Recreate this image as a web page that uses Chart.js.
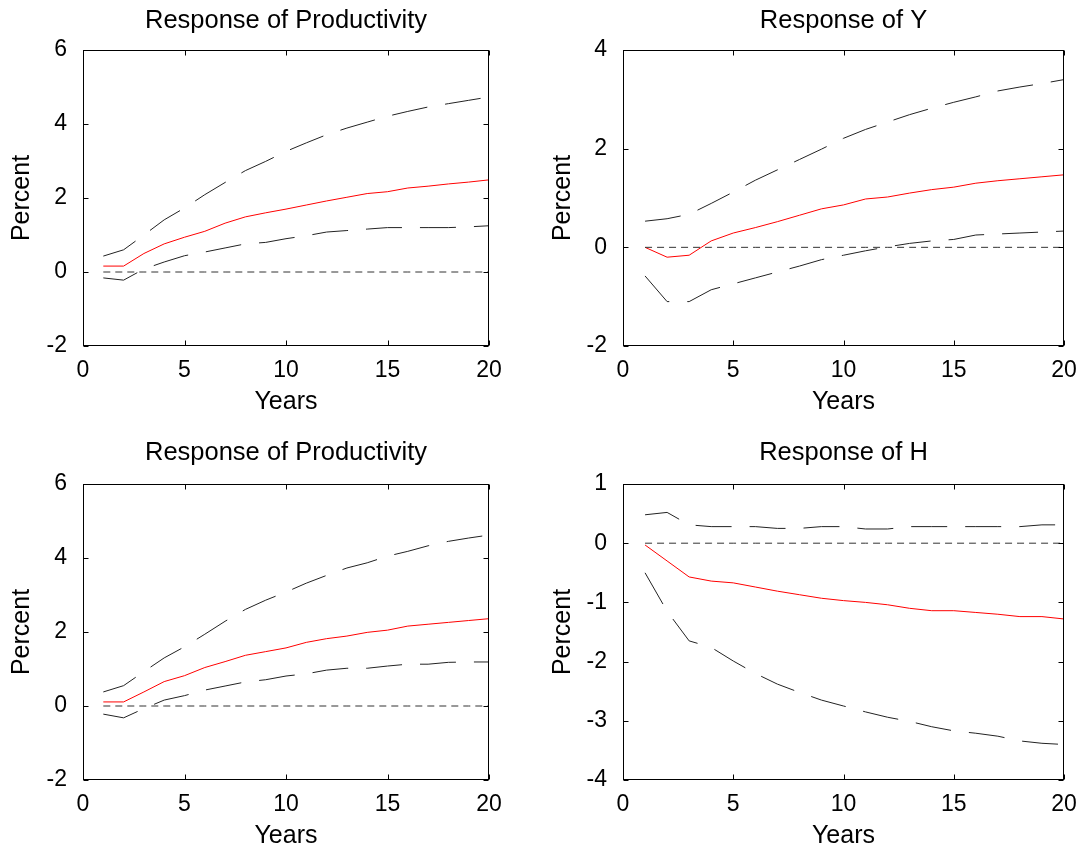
<!DOCTYPE html>
<html><head><meta charset="utf-8">
<script src="https://cdn.jsdelivr.net/npm/chart.js@4.4.1/dist/chart.umd.min.js"></script>
<style>
html,body{margin:0;padding:0;background:#fff;}
#wrap{position:relative;width:1085px;height:848px;overflow:hidden;background:#fff;}
canvas{position:absolute;display:block;}
</style></head><body>
<div id="wrap">
<canvas id="c1" width="542" height="424" style="left:0;top:0"></canvas>
<canvas id="c2" width="543" height="424" style="left:542px;top:0"></canvas>
<canvas id="c3" width="542" height="424" style="left:0;top:424px"></canvas>
<canvas id="c4" width="543" height="424" style="left:542px;top:424px"></canvas>
</div>
<script>
// ---- data ----
const years = [1,2,3,4,5,6,7,8,9,10,11,12,13,14,15,16,17,18,19,20];
const xTicks = [0,5,10,15,20];

const prodResp1  = [0.16,0.16,0.50,0.76,0.94,1.10,1.32,1.49,1.60,1.70,1.81,1.92,2.02,2.12,2.17,2.27,2.32,2.38,2.43,2.49];
const prodUpper1 = [0.43,0.60,1.00,1.41,1.73,2.09,2.42,2.74,2.99,3.26,3.49,3.71,3.89,4.05,4.21,4.34,4.46,4.55,4.64,4.73];
const prodLower1 = [-0.16,-0.22,0.08,0.27,0.44,0.54,0.65,0.76,0.80,0.90,0.98,1.08,1.12,1.16,1.20,1.20,1.20,1.20,1.22,1.25];

const yResp  = [0.00,-0.20,-0.16,0.13,0.29,0.40,0.52,0.65,0.78,0.86,0.98,1.02,1.10,1.17,1.22,1.30,1.35,1.39,1.43,1.47];
const yUpper = [0.53,0.58,0.67,0.89,1.12,1.36,1.57,1.78,1.99,2.21,2.39,2.54,2.69,2.82,2.94,3.05,3.17,3.25,3.32,3.40];
const yLower = [-0.58,-1.10,-1.10,-0.86,-0.74,-0.62,-0.50,-0.38,-0.25,-0.16,-0.07,0.01,0.08,0.13,0.16,0.25,0.27,0.29,0.31,0.33];

const prodResp2  = [0.11,0.11,0.38,0.66,0.82,1.04,1.20,1.37,1.47,1.57,1.72,1.82,1.89,1.99,2.05,2.16,2.21,2.26,2.31,2.36];
const prodUpper2 = [0.38,0.55,0.93,1.30,1.60,1.94,2.29,2.61,2.86,3.08,3.32,3.53,3.73,3.87,4.05,4.18,4.33,4.45,4.54,4.62];
const prodLower2 = [-0.22,-0.32,-0.07,0.16,0.28,0.43,0.54,0.65,0.71,0.81,0.87,0.97,1.02,1.02,1.08,1.13,1.13,1.18,1.19,1.19];

const hResp  = [-0.03,-0.30,-0.57,-0.64,-0.67,-0.74,-0.81,-0.87,-0.93,-0.97,-1.00,-1.04,-1.10,-1.14,-1.14,-1.17,-1.20,-1.24,-1.24,-1.28];
const hUpper = [0.48,0.52,0.31,0.28,0.28,0.28,0.25,0.25,0.28,0.28,0.24,0.24,0.28,0.28,0.28,0.28,0.28,0.28,0.31,0.31];
const hLower = [-0.50,-1.15,-1.65,-1.76,-1.99,-2.20,-2.38,-2.52,-2.65,-2.75,-2.85,-2.94,-3.01,-3.10,-3.17,-3.21,-3.26,-3.34,-3.38,-3.40];

const zeroLine = [0,0,0,0,0,0,0,0,0,0,0,0,0,0,0,0,0,0,0,0];

const ticksProd = [-2,0,2,4,6];
const ticksY = [-2,0,2,4];
const ticksH = [-4,-3,-2,-1,0,1];

// ---- rendering ----
const FONT = "'Liberation Sans', Arial, Helvetica, sans-serif";

const boxPlugin = {
  id: 'matlabBox',
  afterDatasetsDraw(chart) {
    const {ctx, chartArea: a, scales: {x, y}} = chart;
    ctx.save();
    ctx.strokeStyle = '#000';
    ctx.lineWidth = 1;
    const L = Math.round(a.left) + 0.5, R = Math.round(a.right) - 0.5;
    const T = Math.round(a.top) + 0.5, B = Math.round(a.bottom) - 0.5;
    const tl = 5;
    ctx.beginPath();
    x.ticks.forEach(t => {
      const px = Math.round(x.getPixelForValue(t.value)) + 0.5;
      ctx.moveTo(px, B); ctx.lineTo(px, B - tl);
      ctx.moveTo(px, T); ctx.lineTo(px, T + tl);
    });
    y.ticks.forEach(t => {
      const py = Math.round(y.getPixelForValue(t.value)) + 0.5;
      ctx.moveTo(L, py); ctx.lineTo(L + tl, py);
      ctx.moveTo(R, py); ctx.lineTo(R - tl, py);
    });
    ctx.stroke();
    ctx.strokeRect(L, T, R - L, B - T);
    ctx.restore();
  }
};

function pts(arr) { return years.map((x, i) => ({x: x, y: arr[i]})); }

function makePanel(id, p) {
  const ds = [
    {data: pts(zeroLine), borderColor: '#333', borderWidth: 1, borderDash: [7, 5]},
    {data: pts(p.upper), borderColor: '#222', borderWidth: 1, borderDash: [36, 18]},
    {data: pts(p.lower), borderColor: '#222', borderWidth: 1, borderDash: [36, 18]},
    {data: pts(p.resp), borderColor: '#ff0000', borderWidth: 1}
  ];
  ds.forEach(d => { d.pointRadius = 0; d.tension = 0; d.fill = false; });
  new Chart(document.getElementById(id), {
    type: 'line',
    data: {datasets: ds},
    options: {
      responsive: false,
      animation: false,
      layout: {padding: {left: 0, top: 0, right: p.padRight, bottom: 0}},
      plugins: {
        legend: {display: false},
        tooltip: {enabled: false},
        title: {
          display: true, text: p.title, fullSize: false, color: '#000',
          font: {family: FONT, size: 25.5, weight: 'normal', lineHeight: 1.2},
          padding: {top: p.titleTop, bottom: p.titleBottom}
        }
      },
      scales: {
        x: {
          type: 'linear', min: 0, max: 20,
          grid: {display: false}, border: {display: false},
          afterBuildTicks: s => { s.ticks = xTicks.map(v => ({value: v})); },
          afterFit: s => { s.height = p.xAxisHeight; },
          ticks: {color: '#000', autoSkip: false, maxRotation: 0, padding: 3,
                  font: {family: FONT, size: 23}, callback: v => String(v)},
          title: {display: true, text: 'Years', color: '#000',
                  font: {family: FONT, size: 25, lineHeight: 0.9},
                  padding: {top: 0, bottom: p.xTitleBottom}}
        },
        y: {
          type: 'linear', min: p.yTicks[0], max: p.yTicks[p.yTicks.length - 1],
          grid: {display: false}, border: {display: false},
          afterBuildTicks: s => { s.ticks = p.yTicks.map(v => ({value: v})); },
          afterFit: s => { s.width = p.yAxisWidth; },
          ticks: {color: '#000', autoSkip: false, padding: 8,
                  font: {family: FONT, size: 23}, callback: v => String(v)},
          title: {display: true, text: 'Percent', color: '#000',
                  font: {family: FONT, size: 25, lineHeight: 1},
                  padding: {top: p.yTitleTop, bottom: 0}}
        }
      }
    },
    plugins: [boxPlugin]
  });
}

makePanel('c1', {title: 'Response of Productivity', resp: prodResp1, upper: prodUpper1, lower: prodLower1,
  yTicks: ticksProd, yAxisWidth: 83, xAxisHeight: 78, padRight: 53, titleTop: 6, titleBottom: 13.4,
  yTitleTop: 10, xTitleBottom: 10.75});
makePanel('c2', {title: 'Response of Y', resp: yResp, upper: yUpper, lower: yLower,
  yTicks: ticksY, yAxisWidth: 81, xAxisHeight: 78, padRight: 21, titleTop: 6, titleBottom: 13.4,
  yTitleTop: 9, xTitleBottom: 10.75});
makePanel('c3', {title: 'Response of Productivity', resp: prodResp2, upper: prodUpper2, lower: prodLower2,
  yTicks: ticksProd, yAxisWidth: 83, xAxisHeight: 68, padRight: 53, titleTop: 13.6, titleBottom: 15.8,
  yTitleTop: 10, xTitleBottom: 0.75});
makePanel('c4', {title: 'Response of H', resp: hResp, upper: hUpper, lower: hLower,
  yTicks: ticksH, yAxisWidth: 81, xAxisHeight: 68, padRight: 21, titleTop: 13.6, titleBottom: 15.8,
  yTitleTop: 9, xTitleBottom: 0.75});
</script>
</body></html>
